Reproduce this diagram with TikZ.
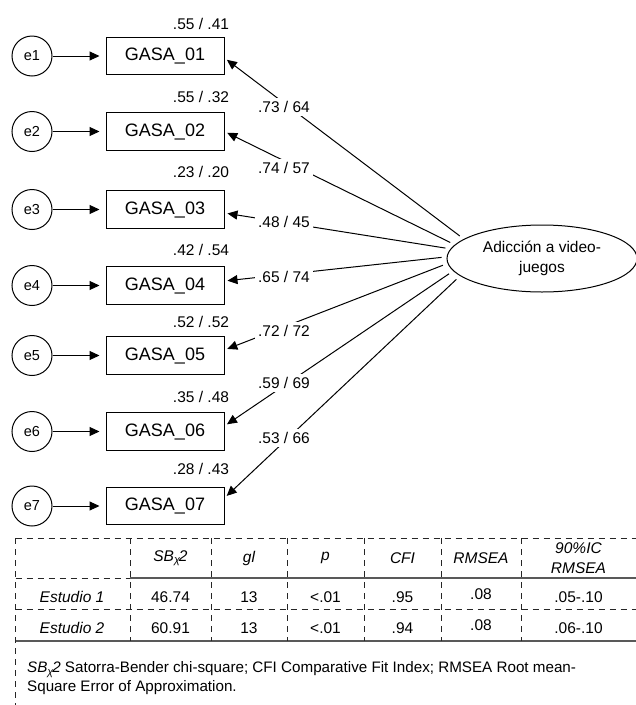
\documentclass[tikz,border=0pt]{standalone}
\usepackage{fontspec}
\setmainfont{Liberation Sans}
\usetikzlibrary{arrows.meta,shapes.geometric,calc}
\begin{document}
\begin{tikzpicture}[x=1pt,y=-1pt,
  err/.style={circle,draw,line width=1pt,minimum size=40pt,inner sep=0pt,font=\fontsize{14.5}{16}\selectfont},
  obs/.style={draw,line width=1pt,minimum width=118pt,minimum height=37.5pt,inner sep=0pt,font=\fontsize{18}{20}\selectfont},
  latent/.style={ellipse,draw,line width=1pt,minimum width=190pt,minimum height=67pt,inner sep=0pt,align=center,font=\fontsize{15.5}{20}\selectfont},
  lbl/.style={font=\fontsize{15.5}{18}\selectfont,inner sep=1pt},
  wlbl/.style={lbl,fill=white,inner sep=3pt},
  arr/.style={-{Triangle[length=10pt,width=9pt]},line width=1pt},
  tdash/.style={line width=0.9pt,black!85,dash pattern=on 6pt off 5pt},
  tsolid/.style={line width=1.6pt,black!65},
  tcell/.style={font=\fontsize{15.5}{19}\selectfont,inner sep=0pt,align=center},
]
\useasboundingbox (0,0) rectangle (636,705);

% latent
\node[latent] (lat) at (542,258.5) {Adicción a video-\\juegos};

% error circles, boxes, R2 labels
\foreach \i/\y/\ly/\r in {1/56/24/{.55 / .41},2/131.5/97/{.55 / .32},3/209.5/172/{.23 / .20},4/285.5/250/{.42 / .54},5/355.5/322/{.52 / .52},6/431.5/397/{.35 / .48},7/506/469/{.28 / .43}}{
  \node[err] (e\i) at (32,\y) {e\i};
  \node[obs] (b\i) at (165,\y) {GASA\_0\i};
  \node[lbl] (r\i) at (201,\ly) {\r};
  \draw[arr,shorten >=6pt] (e\i) -- (b\i);
}

% loadings
\foreach \i/\ang/\dy/\ly/\t in {1/166/2/107/{.73 / 64},2/171/0/168/{.74 / 57},3/174/3.5/222/{.48 / 45},4/179/-4.5/277/{.65 / 74},5/183/-5.5/331/{.72 / 72},6/188/-5.5/383/{.59 / 69},7/192/-8/438/{.53 / 66}}{
  \draw[arr,shorten <=5pt,shorten >=3pt] (lat.\ang) -- ($(b\i.east)+(0,\dy)$);
  \node[wlbl] (w\i) at (284,\ly) {\t};
}

% table lines
\draw[tdash] (15.7,538) -- (636,538);
\draw[tdash] (15.7,578) -- (130,578);
\draw[tsolid] (130,578) -- (636,578);
\draw[tdash] (15.7,609) -- (636,609);
\draw[tsolid] (15.7,641) -- (636,641);
\draw[tdash] (15.7,538) -- (15.7,705);
\foreach \x in {130,211,287,364,441,521}{
  \draw[tdash] (\x,538) -- (\x,641);
}

% header
\node[tcell,font=\fontsize{15.5}{19}\itshape] (h1) at (170.5,558) {SB\textsubscript{χ}\kern-1.5pt2};
\node[tcell,font=\fontsize{15.5}{19}\itshape] (h2) at (249,558) {gl};
\node[tcell,font=\fontsize{15.5}{19}\itshape] (h3) at (325.5,558) {p};
\node[tcell,font=\fontsize{15.5}{19}\itshape] (h4) at (402.5,558) {CFI};
\node[tcell,font=\fontsize{15.5}{19}\itshape] (h5) at (481,558) {RMSEA};
\node[tcell,font=\fontsize{15.5}{20}\itshape] (h6) at (578.5,558) {90\%IC\\RMSEA};

% rows
\node[tcell,font=\fontsize{15.5}{19}\itshape] (s1) at (72,597) {Estudio 1};
\node[tcell] (a1) at (170.5,597) {46.74};
\node[tcell] (g1) at (249,597) {13};
\node[tcell] (p1) at (325.5,597) {<.01};
\node[tcell] (c1) at (402.5,597) {.95};
\node[tcell] (m1) at (481,594) {.08};
\node[tcell] (i1) at (578.5,597) {.05-.10};

\node[tcell,font=\fontsize{15.5}{19}\itshape] (s2) at (72,628) {Estudio 2};
\node[tcell] (a2) at (170.5,628) {60.91};
\node[tcell] (g2) at (249,628) {13};
\node[tcell] (p2) at (325.5,628) {<.01};
\node[tcell] (c2) at (402.5,628) {.94};
\node[tcell] (m2) at (481,625) {.08};
\node[tcell] (i2) at (578.5,628) {.06-.10};

% footnote
\node[anchor=west,inner sep=0pt,align=left,font=\fontsize{15.2}{19}\selectfont] (fn) at (27,678.5)
  {{\itshape SB\textsubscript{χ}\kern-1.5pt2} Satorra-Bender chi-square; CFI Comparative Fit Index; RMSEA Root mean-\\Square Error of Approximation.};
\end{tikzpicture}
\end{document}
